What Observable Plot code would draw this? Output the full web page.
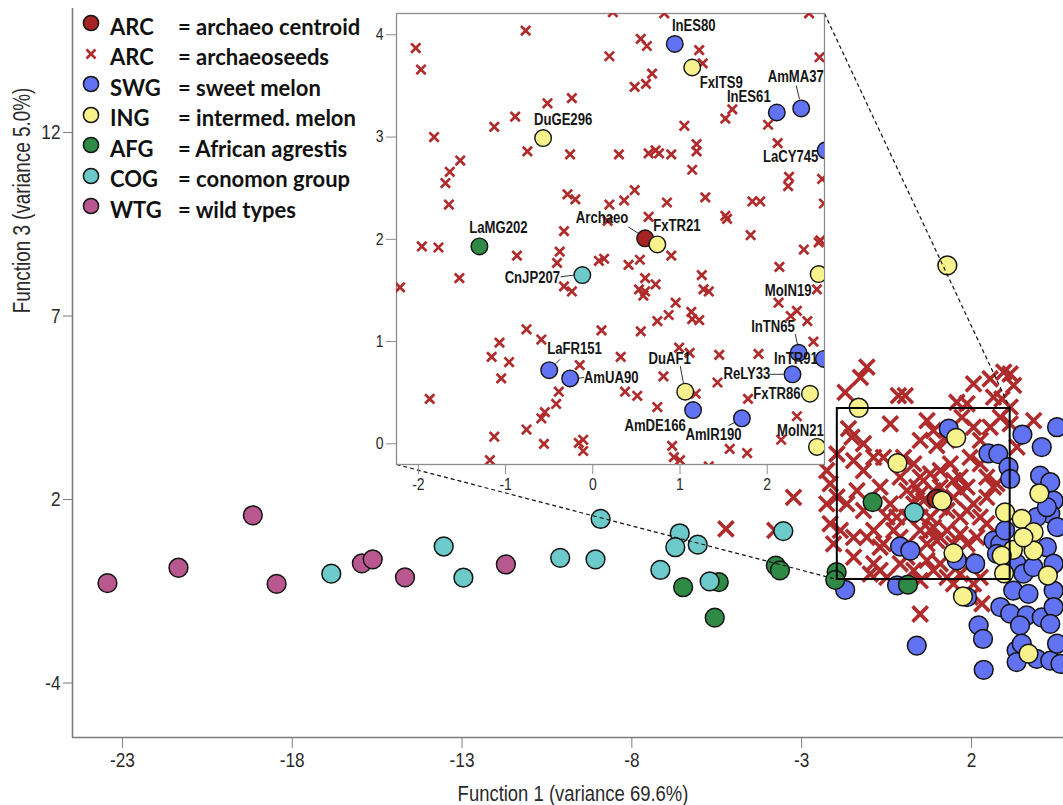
<!DOCTYPE html>
<html>
<head>
<meta charset="utf-8">
<script src="https://cdn.jsdelivr.net/npm/d3@7"></script>
<script src="https://cdn.jsdelivr.net/npm/@observablehq/plot@0.6"></script>
<style>
  body { margin: 0; background: #fff; }
  #chart { position: relative; width: 1063px; height: 805px; overflow: hidden; background: #fff; }
  #chart > svg { position: absolute; left: 0; top: 0; }
  #inset { position: absolute; }
  #legend { position: absolute; left: 80px; top: 11px; font-family: Lato, "Open Sans", sans-serif;
            font-weight: 700; font-size: 22px; color: #111; }
  #legend .row { display: flex; align-items: center; height: 30.5px; white-space: nowrap; }
  #legend .mk { width: 20px; height: 20px; margin-left: 1px; margin-right: 9px; position: relative; top: -3px; }
  #legend .code { display: inline-block; width: 68px; }
</style>
</head>
<body>
<div id="chart"><div id="legend"></div></div>
<script>
// ---------- data ----------
// Main discriminant plot: [Function 1, Function 3]
const wtgPoints = [[-23.44,-0.28],[-21.35,0.14],[-19.16,1.57],[-18.46,-0.30],[-15.95,0.26],[-15.63,0.37],[-14.68,-0.12],[-11.71,0.23]];
const cogPoints = [[-16.85,-0.02],[-13.54,0.72],[-12.96,-0.13],[-10.11,0.41],[-9.07,0.37],[-8.92,1.47],[-6.59,1.08],[-6.72,0.70],
  [-6.06,0.77],[-7.16,0.08],[-5.71,-0.23],[-3.54,1.14],[0.31,1.65]];
const afgPoints = [[-6.49,-0.39],[-5.44,-0.25],[-5.56,-1.22],[-3.76,0.20],[-3.64,0.07],[-1.97,0.02],[-2.01,-0.19],[-0.91,1.93],[0.13,-0.32]];
const swgPoints = [[-1.72,-0.46],[-0.19,-0.34],[-0.10,0.72],[0.20,0.61],[1.33,3.93],[1.57,0.34],[2.11,0.25],[1.87,-0.66],[0.39,-1.98],
  [2.21,-1.43],[2.34,-1.80],[2.36,-2.64],[2.50,3.26],[2.79,3.24],[3.09,2.88],[3.14,2.56],[3.50,3.77],[4.07,3.43],[4.52,3.97],
  [4.02,2.65],[4.32,2.47],[4.42,1.97],[4.32,1.61],[4.52,1.25],[2.65,0.88],[2.85,0.79],[2.75,0.52],[3.33,0.25],[3.53,-0.02],
  [3.82,0.16],[4.22,0.70],[4.42,0.25],[3.23,-0.48],[3.68,-0.57],[4.42,-0.48],[2.85,-0.93],[3.14,-1.11],[3.63,-1.16],[4.07,-1.21],
  [4.42,-0.93],[3.43,-1.43],[4.32,-1.39],[3.33,-2.11],[3.33,-2.43],[3.92,-2.34],[4.32,-2.39],[4.52,-1.93],[4.62,-2.48],[3.48,-1.93],
  [2.99,1.16],[3.92,1.52],[4.22,1.79]];
const ingPoints = [[-1.32,4.50],[1.55,3.68],[-0.18,2.99],[1.13,1.97],[2.99,1.65],[3.48,1.47],[3.83,1.11],[3.22,0.63],[3.83,0.61],
  [3.53,0.97],[2.89,0.47],[2.96,-0.01],[1.47,0.54],[1.75,-0.64],[4.00,2.17],[4.25,-0.07],[3.68,-2.20],[1.29,8.38]];
const archaeoCentroid = [[0.98,2.02]];
const archaeoSeeds = [[-1.08,5.61],[-1.27,5.33],[-1.72,4.92],[-0.15,4.83],[0.05,4.83],[2.06,5.15],[2.55,5.29],[2.95,5.47],[3.14,5.42],
  [3.24,5.11],[2.65,4.79],[2.90,4.74],[1.57,4.65],[1.87,4.61],[-0.39,4.06],[-1.62,3.93],[-1.52,3.70],[0.69,4.15],[0.88,3.88],
  [0.49,3.61],[0.98,3.47],[1.72,4.24],[2.06,3.97],[2.85,4.24],[2.55,3.97],[3.14,4.06],[3.83,4.15],[-1.96,3.24],[-1.47,3.06],
  [-1.18,2.79],[-0.88,3.15],[-0.59,3.15],[-0.10,2.61],[0.30,2.97],[0.49,2.61],[0.79,2.70],[1.08,2.79],[1.38,2.97],[1.67,2.61],
  [1.96,3.15],[2.26,2.97],[2.45,2.61],[2.75,2.43],[3.34,3.43],[-2.16,2.43],[-1.96,2.07],[-1.67,1.88],[-1.37,2.24],[-1.18,1.70],
  [-0.69,2.34],[-0.39,1.88],[-0.20,1.52],[0.10,2.24],[0.39,2.34],[0.59,1.97],[0.79,1.52],[1.08,2.34],[1.28,1.70],[1.47,2.06],
  [1.67,1.52],[1.87,2.34],[2.06,1.88],[2.26,1.52],[2.45,2.06],[2.65,2.34],[-2.16,1.34],[-1.86,1.16],[-1.47,0.97],[-2.06,0.79],
  [-0.88,1.16],[-0.59,0.79],[-0.29,1.16],[0.49,1.16],[0.69,0.79],[0.88,1.25],[1.08,0.97],[1.28,1.16],[1.67,1.06],[1.87,0.79],
  [2.16,0.97],[2.45,1.34],[-1.47,0.43],[-0.88,0.25],[-0.69,0.07],[-0.10,0.25],[0.30,0.07],[0.69,0.34],[0.88,0.07],[1.08,0.25],
  [1.28,-0.12],[1.67,-0.03],[2.06,-0.30],[2.26,-0.12],[-0.49,-0.12],[-0.98,-0.03],[0.49,-0.21],[1.47,-0.30],[0.49,-1.12],
  [1.96,-0.66],[2.31,-0.84],[0.30,1.88],[0.88,2.24],[1.67,2.24],[0.10,1.52],[0.49,1.52],[0.98,0.88],[0.10,0.79],[-0.49,1.52],
  [-0.10,0.97],[1.47,0.79],[1.87,1.70],[-0.69,0.70],[-1.08,0.97],[-2.26,1.88],[-2.26,2.79],[-1.18,3.52],[1.28,3.61],[2.26,3.61],
  [0.00,3.15],[3.14,4.52],[1.47,2.52],[0.49,2.15],[1.08,1.79],[0.79,1.16],[0.10,0.43],[1.87,0.34],[-5.23,1.20],[-3.79,1.16],[-3.24,2.06]];
// Region enlarged in the inset
const zoomBox = [{x1: -1.95, x2: 3.14, y1: -0.18, y2: 4.48}];

// Inset (enlarged archaeo region)
const insetSeeds = [[0.23,4.22],[0.82,4.21],[2.48,4.21],[-0.77,4.04],[-2.03,3.87],[-1.97,3.66],[0.55,3.96],[0.62,3.89],[0.19,3.79],
  [1.22,3.85],[1.26,3.72],[0.68,3.62],[0.48,3.49],[0.61,3.52],[2.60,3.78],[-0.52,3.33],[-0.24,3.38],[-0.89,3.20],[-1.13,3.10],
  [-1.82,3.00],[-0.75,2.86],[-0.26,2.83],[0.30,2.83],[0.64,2.84],[0.72,2.87],[0.76,2.84],[0.90,2.83],[1.05,3.11],[1.19,2.93],
  [1.19,2.86],[1.14,2.68],[1.52,3.18],[1.60,3.27],[2.01,3.12],[2.12,2.94],[2.25,2.61],[2.24,2.52],[2.63,2.59],[-1.52,2.77],
  [-1.64,2.66],[-1.69,2.55],[-1.65,2.34],[-0.29,2.44],[-0.20,2.39],[0.19,2.34],[0.36,2.38],[0.48,2.48],[0.85,2.36],[1.29,2.41],
  [1.83,2.37],[1.92,2.37],[1.52,2.23],[1.54,2.20],[0.64,2.22],[0.17,2.18],[-0.33,2.08],[1.81,2.04],[2.65,2.35],[2.61,1.99],
  [-1.96,1.93],[-1.77,1.92],[-2.21,1.53],[-1.53,1.62],[-0.87,1.84],[-0.38,1.88],[-0.41,1.77],[-0.33,1.54],[-0.24,1.49],[0.07,1.79],
  [0.13,1.81],[0.41,1.75],[0.54,1.80],[0.90,1.84],[0.60,1.62],[0.72,1.56],[0.53,1.51],[0.60,1.49],[0.58,1.45],[1.25,1.65],
  [1.27,1.51],[1.33,1.49],[0.95,1.38],[0.87,1.26],[0.74,1.20],[1.13,1.29],[1.14,1.22],[1.22,1.21],[2.42,1.90],[2.59,1.97],
  [2.14,1.73],[2.13,1.38],[2.27,1.25],[2.34,1.30],[2.46,1.20],[2.57,1.51],[2.53,1.00],[-0.76,1.12],[0.10,1.11],[0.55,1.10],
  [-1.07,0.99],[-0.59,1.02],[-1.16,0.85],[-0.96,0.80],[-1.05,0.64],[-1.87,0.44],[-0.15,0.77],[0.32,0.85],[0.99,0.94],[1.11,0.89],
  [1.45,0.87],[1.90,0.88],[0.81,0.66],[1.43,0.60],[0.37,0.51],[0.51,0.47],[-0.39,0.51],[-0.42,0.39],[-0.55,0.31],[-0.59,0.25],
  [1.18,0.49],[1.78,0.44],[0.74,0.36],[-0.76,0.14],[-1.13,0.07],[-0.56,0.00],[-0.16,0.01],[-0.11,0.04],[-0.11,-0.07],[0.91,-0.02],
  [0.93,-0.13],[1.00,-0.16],[1.33,-0.22],[1.57,-0.05],[1.77,-0.09],[2.16,0.04],[2.34,0.27],[-1.18,-0.16]];
const insetAccessions = [
  {name: "InES80",  group: "SWG", x: 0.94,  y: 3.91},
  {name: "FxITS9",  group: "ING", x: 1.14,  y: 3.68},
  {name: "AmMA37",  group: "SWG", x: 2.39,  y: 3.28},
  {name: "InES61",  group: "SWG", x: 2.11,  y: 3.24},
  {name: "LaCY745", group: "SWG", x: 2.67,  y: 2.87},
  {name: "DuGE296", group: "ING", x: -0.57, y: 2.99},
  {name: "LaMG202", group: "AFG", x: -1.30, y: 1.93},
  {name: "Archaeo", group: "ARC", x: 0.60,  y: 2.01},
  {name: "FxTR21",  group: "ING", x: 0.74,  y: 1.95},
  {name: "CnJP207", group: "COG", x: -0.12, y: 1.65},
  {name: "MoIN19",  group: "ING", x: 2.59,  y: 1.66},
  {name: "InTN65",  group: "SWG", x: 2.36,  y: 0.89},
  {name: "InTR91",  group: "SWG", x: 2.65,  y: 0.83},
  {name: "ReLY33",  group: "SWG", x: 2.29,  y: 0.68},
  {name: "FxTR86",  group: "ING", x: 2.49,  y: 0.49},
  {name: "MoIN21",  group: "ING", x: 2.57,  y: -0.03},
  {name: "LaFR151", group: "SWG", x: -0.50, y: 0.72},
  {name: "AmUA90",  group: "SWG", x: -0.26, y: 0.64},
  {name: "DuAF1",   group: "ING", x: 1.06,  y: 0.51},
  {name: "AmDE166", group: "SWG", x: 1.15,  y: 0.33},
  {name: "AmIR190", group: "SWG", x: 1.71,  y: 0.25}
];

// Axis ticks
const xTicks = [-23, -18, -13, -8, -3, 2];
const yTicks = [-3, 2, 7, 12];
const yTickLabels = ["-4", "2", "7", "12"];
const insetXTicks = [-2, -1, 0, 1, 2];
const insetYTicks = [0, 1, 2, 3, 4];
const xTitle = "Function 1 (variance 69.6%)";
const yTitle = "Function 3 (variance 5.0%)";

// Legend entries
const legendCodes = ["ARC", "ARC", "SWG", "ING", "AFG", "COG", "WTG"];
const legendNames = ["archaeo centroid", "archaeoseeds", "sweet melon", "intermed. melon", "African agrestis", "conomon group", "wild types"];
const legendKeys = ["ARC", "seed", "SWG", "ING", "AFG", "COG", "WTG"];

// ---------- styling / layout ----------
const COLORS = {ARC: "#a52323", seed: "#b02c2c", SWG: "#6172f2", ING: "#f7f28c", AFG: "#2e8a45", COG: "#6ccaca", WTG: "#b8588f"};
const FONT_SANS = '"Liberation Sans",Arial,sans-serif';
const NARROW = 0.82;  // horizontal squeeze giving a narrow face
const AXIS_GREY = "#7d7d7d";
const TEXT_DARK = "#2a2a2a";

const M = {width: 1063, height: 805, left: 72, right: 0, top: 8, bottom: 68};
const mainXDomain = [-24.47, 4.71];
const mainYDomain = [-4.485, 15.38];

const I = {left: 356, top: 10, width: 472, height: 490, ml: 40, mr: 4, mt: 3, mb: 36};
const insetXDomain = [-2.251, 2.657];
const insetYDomain = [-0.202, 4.208];

// Label placement (pixel offsets from the point) and optional leader segment
const labelPlacement = {
  InES80: {d: [19, -18]},  FxITS9: {d: [29, 15]},
  AmMA37: {d: [-5.5, -32], l: [-1.7, -9, -5, -23]},
  InES61: {d: [-28, -15.5]}, LaCY745: {d: [-35, 6.5]}, DuGE296: {d: [20, -18]}, LaMG202: {d: [19, -18.5]},
  Archaeo: {d: [-43, -20], l: [-6.7, -5, -16.7, -11.3]},
  FxTR21: {d: [19.6, -19]},
  CnJP207: {d: [-50, 2.5], l: [-8.4, 0, -21.7, 1.7]},
  MoIN19: {d: [-30.5, 16.7]},
  InTN65: {d: [-25.6, -26], l: [-1, -7.7, -3.3, -18.7]},
  InTR91: {d: [-28, 0]},
  ReLY33: {d: [-45.6, 0], l: [-9, 0, -22.3, 0]},
  FxTR86: {d: [-33, 0]}, MoIN21: {d: [-16.5, -16.5]},
  LaFR151: {d: [25.3, -21], l: [6.7, -6.6, 11, -11]},
  AmUA90: {d: [41, -1], l: [8, 0, 14, -1]},
  DuAF1: {d: [-15.5, -33], l: [-1.7, -8, -5, -25.7]},
  AmDE166: {d: [-38, 16]},
  AmIR190: {d: [-28.4, 17], l: [-6.7, 4, -13.4, 7.3]}
};

// ---------- main plot ----------
const X = d => d[0], Y = d => d[1];
const circle = (data, key) => Plot.dot(data, {x: X, y: Y, r: 9.4, fill: COLORS[key], stroke: "#141414", strokeWidth: 1.5});

const xScale = Plot.scale({x: {domain: mainXDomain, range: [M.left, M.width - M.right]}});
const yScale = Plot.scale({y: {domain: mainYDomain, range: [M.height - M.bottom, M.top]}});
const insetFrame = {x0: I.left + I.ml, x1: I.left + I.width - I.mr, y0: I.top + I.mt, y1: I.top + I.height - I.mb};
const connectors = [
  {x1: xScale.invert(insetFrame.x0), y1: yScale.invert(insetFrame.y1), x2: zoomBox[0].x1, y2: zoomBox[0].y1},
  {x1: xScale.invert(insetFrame.x1), y1: yScale.invert(insetFrame.y0), x2: zoomBox[0].x2, y2: zoomBox[0].y2}
];

const main = Plot.plot({
  width: M.width, height: M.height,
  marginLeft: M.left, marginRight: M.right, marginTop: M.top, marginBottom: M.bottom,
  x: {domain: mainXDomain}, y: {domain: mainYDomain},
  style: {fontFamily: FONT_SANS, background: "transparent"},
  marks: [
    Plot.axisX({ticks: xTicks, tickFormat: d => String(d), tickSize: 11, tickPadding: 4, fontSize: 21,
                stroke: AXIS_GREY, fill: TEXT_DARK, label: null}),
    Plot.axisY({ticks: yTicks, tickFormat: d => yTickLabels[yTicks.indexOf(d)], tickSize: 9, tickPadding: 3, fontSize: 21,
                stroke: AXIS_GREY, fill: TEXT_DARK, label: null}),
    Plot.ruleX([mainXDomain[0]], {stroke: AXIS_GREY, strokeWidth: 1.6}),
    Plot.ruleY([mainYDomain[0]], {stroke: AXIS_GREY, strokeWidth: 1.6}),
    Plot.text([xTitle], {frameAnchor: "bottom", dx: 5, dy: 56, lineAnchor: "middle", fontSize: 22.5, fill: TEXT_DARK}),
    Plot.text([yTitle], {frameAnchor: "top-left", dx: -50, dy: 192, rotate: -90, textAnchor: "middle",
                         lineAnchor: "middle", fontSize: 23, fill: TEXT_DARK}),
    Plot.dot(archaeoSeeds, {x: X, y: Y, symbol: "times", r: 7, stroke: COLORS.seed, strokeWidth: 3.6}),
    circle(archaeoCentroid, "ARC"),
    circle(swgPoints, "SWG"),
    circle(ingPoints, "ING"),
    circle(afgPoints, "AFG"),
    circle(cogPoints, "COG"),
    circle(wtgPoints, "WTG"),
    Plot.rect(zoomBox, {x1: "x1", x2: "x2", y1: "y1", y2: "y2", fill: "none", stroke: "#000", strokeWidth: 2}),
    Plot.link(connectors, {x1: "x1", y1: "y1", x2: "x2", y2: "y2", stroke: "#111", strokeWidth: 1.2, strokeDasharray: "4,3"})
  ]
});
document.getElementById("chart").prepend(main);

// ---------- inset ----------
const kx = (I.width - I.ml - I.mr) / (insetXDomain[1] - insetXDomain[0]);
const ky = (I.height - I.mt - I.mb) / (insetYDomain[1] - insetYDomain[0]);
const labels = insetAccessions.map(a => {
  const p = labelPlacement[a.name];
  return {...a, lx: a.x + p.d[0] / kx, ly: a.y - p.d[1] / ky};
});
const leaders = insetAccessions.filter(a => labelPlacement[a.name].l).map(a => {
  const l = labelPlacement[a.name].l;
  return {x1: a.x + l[0] / kx, y1: a.y - l[1] / ky, x2: a.x + l[2] / kx, y2: a.y - l[3] / ky};
});

const inset = Plot.plot({
  width: I.width, height: I.height,
  marginLeft: I.ml, marginRight: I.mr, marginTop: I.mt, marginBottom: I.mb,
  x: {domain: insetXDomain}, y: {domain: insetYDomain},
  style: {fontFamily: FONT_SANS, background: "transparent", overflow: "visible"},
  marks: [
    Plot.frame({fill: "white", stroke: "#8c8c8c", strokeWidth: 1.3}),
    Plot.axisX({ticks: insetXTicks, tickFormat: d => String(d), tickSize: 10, tickPadding: 3, fontSize: 17,
                stroke: "#8c8c8c", fill: TEXT_DARK, label: null}),
    Plot.axisY({ticks: insetYTicks, tickFormat: d => String(d), tickSize: 10, tickPadding: 3, fontSize: 17,
                stroke: "#8c8c8c", fill: TEXT_DARK, label: null}),
    Plot.dot(insetSeeds, {x: X, y: Y, symbol: "times", r: 4.3, stroke: COLORS.seed, strokeWidth: 2.7, clip: true}),
    Plot.link(leaders, {x1: "x1", y1: "y1", x2: "x2", y2: "y2", stroke: "#333", strokeWidth: 1}),
    Plot.dot(insetAccessions, {x: "x", y: "y", r: 8.3, fill: d => COLORS[d.group], stroke: "#141414", strokeWidth: 1.4, clip: true}),
    Plot.text(labels, {x: "lx", y: "ly", text: "name", fontSize: 16, fontWeight: "bold", fill: "#151515"})
  ]
});
inset.id = "inset";
inset.style.left = I.left + "px";
inset.style.top = I.top + "px";
document.getElementById("chart").appendChild(inset);

// Squeeze every SVG label horizontally so the sans face reads as a narrow one
for (const svg of [main, inset]) {
  svg.querySelectorAll("text").forEach(t => {
    const len = t.getComputedTextLength();
    if (len > 0) {
      t.setAttribute("textLength", (len * NARROW).toFixed(1));
      t.setAttribute("lengthAdjust", "spacingAndGlyphs");
    }
  });
}

// ---------- legend ----------
const legend = document.getElementById("legend");
legendKeys.forEach((key, i) => {
  const row = document.createElement("div");
  row.className = "row";
  const mark = key === "seed"
    ? `<svg class="mk" viewBox="-10 -10 20 20"><path d="M-4.5,-4.5L4.5,4.5M-4.5,4.5L4.5,-4.5" stroke="${COLORS.seed}" stroke-width="2.6"/></svg>`
    : `<svg class="mk" viewBox="-10 -10 20 20"><circle r="7.6" fill="${COLORS[key]}" stroke="#141414" stroke-width="1.5"/></svg>`;
  row.innerHTML = `${mark}<span class="code">${legendCodes[i]}</span><span>= ${legendNames[i]}</span>`;
  legend.appendChild(row);
});
legend.parentElement.appendChild(legend);
</script>
</body>
</html>
